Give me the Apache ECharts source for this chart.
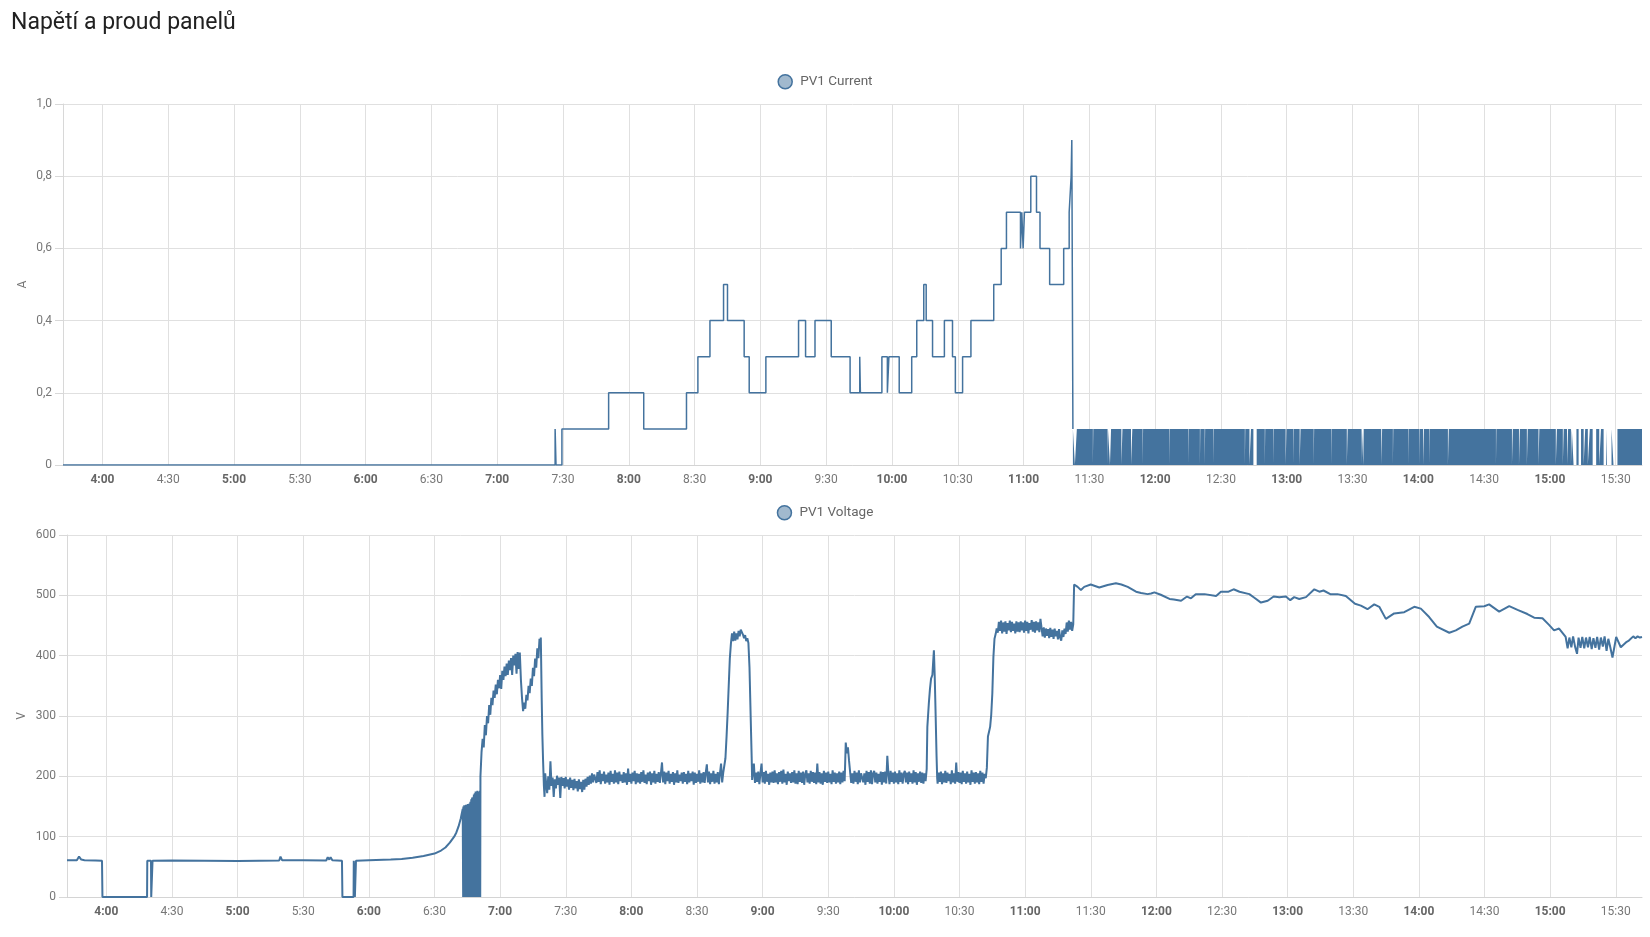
<!DOCTYPE html>
<html>
<head>
<meta charset="utf-8">
<script src="https://cdn.jsdelivr.net/npm/echarts@6/dist/echarts.min.js"></script>
<style>
html,body{margin:0;padding:0;background:#fff;}
#chart{width:1650px;height:937px;}
</style>
</head>
<body>
<div id="chart"></div>
<script>
// ---------- DATA ----------
const titleText = 'Napětí a proud panelů';
const xStart = '3:42';
const xEnd = '15:42';
const labelEveryMinutes = 30;

// PV1 Current: sample-and-hold readings [time, A]
const currentSteps = [
  ['3:42',0],['7:26.4',0.1],['7:26.8',0],['7:29.5',0.1],['7:50.8',0.2],['8:06.8',0.1],
  ['8:26.3',0.2],['8:31.5',0.3],['8:37.0',0.4],['8:43.2',0.5],['8:45.0',0.4],['8:52.6',0.3],
  ['8:54.9',0.2],['9:02.5',0.3],['9:17.4',0.4],['9:20.6',0.3],['9:24.9',0.4],['9:32.3',0.3],
  ['9:40.9',0.2],['9:45.3',0.3],['9:45.6',0.2],['9:55.4',0.3],['9:57.9',0.2],['9:58.6',0.3],
  ['10:03.3',0.2],['10:09.0',0.3],['10:11.3',0.4],['10:14.5',0.5],['10:15.6',0.4],['10:18.5',0.3],
  ['10:23.9',0.4],['10:27.6',0.3],['10:28.9',0.2],['10:32.2',0.3],['10:36.0',0.4],['10:46.4',0.5],
  ['10:49.8',0.6],['10:52.2',0.7],['10:58.6',0.6],['10:59.2',0.7],['10:59.8',0.6],['11:00.4',0.7],
  ['11:03.3',0.8],['11:05.9',0.7],['11:07.5',0.6],['11:11.9',0.5],['11:18.3',0.6],['11:20.8',0.7],
  ['11:21.7',0.8],['11:22.0',0.9],['11:22.5',0.1]
];
// After 11:22 the current flickers 0 <-> 0.1 continuously; drawn as a band with the quiet gaps
const currentBandStart = '11:22.5';
const currentBandEnd = '15:42';
const currentBandLevel = 0.1;
const currentBandGaps = [
  ['11:23.4','11:24.3'],['11:31.6','11:31.8'],['11:38.3','11:38.5'],['11:39.4','11:39.9'],
  ['11:44.6','11:45.1'],['11:49.0','11:49.6'],['11:54.3','11:54.5'],['12:06.5','12:06.7'],
  ['12:15.2','12:15.4'],['12:20.4','12:20.6'],['12:22.6','12:22.8'],['12:26.4','12:26.6'],
  ['12:40.9','12:41.1'],['12:43.0','12:43.7'],['12:44.8','12:46.3'],['12:50.0','12:50.2'],
  ['12:53.8','12:54.0'],['12:59.5','12:59.9'],['13:02.9','13:03.1'],['13:05.9','13:06.3'],
  ['13:12.3','13:12.5'],['13:20.4','13:20.6'],['13:27.4','13:27.8'],['13:34.1','13:34.3'],
  ['13:34.9','13:35.1'],['13:43.1','13:43.5'],['13:48.4','13:48.6'],['13:55.3','13:55.5'],
  ['14:00.5','14:00.7'],['14:02.2','14:02.6'],['14:04.9','14:05.1'],['14:13.5','14:13.9'],
  ['14:35.4','14:35.6'],['14:42.7','14:43.1'],['14:45.9','14:46.3'],['14:49.5','14:49.9'],
  ['14:54.8','14:55.2'],['15:02.7','15:03.2'],['15:05.9','15:06.3'],['15:07.8','15:08.3'],
  ['15:09.6','15:10.0'],['15:10.8','15:12.1'],['15:13.1','15:14.2'],['15:15.4','15:16.1'],
  ['15:17.3','15:18.2'],['15:19.5','15:21.1'],['15:22.5','15:23.3'],['15:24.5','15:25.6'],
  ['15:26.0','15:28.1'],['15:29.0','15:30.8']
];

// PV1 Voltage readings
const voltageEarly = [
  ['3:42',61],['3:46.5',61],['3:47.5',67],['3:48.5',62],['3:50',61],['3:55',60.5],['3:58',60],['3:58.2',0],
  ['4:18.6',0],['4:18.7',60],['4:20.4',60],['4:20.5',0],['4:21.0',0],['4:21.1',60],['4:30',60.5],['4:45',60],
  ['5:00',59.5],['5:10',60],['5:19',60.5],['5:19.6',67],['5:20.3',61],['5:30',61],['5:40.5',60.5],['5:41.2',66],
  ['5:41.9',62],['5:42.5',66],['5:43.3',61],['5:47.7',60],['5:47.9',0],['5:53.0',0],['5:53.1',60],['5:53.5',60],
  ['5:53.6',0],['5:54.0',0],['5:54.1',60],['6:00',61],['6:10',62],['6:15',63],['6:20',65],['6:25',68],
  ['6:30',72],['6:33',77],['6:35',82],['6:37',90],['6:39',100],['6:40',107],['6:41',117],['6:42',130],['6:42.9',146]
];
// 6:43 - 6:51 the voltage flickers between 0 and ~150-176 V (one reading every 0.1 min)
const voltageFlickerStart = '6:43.0';
const voltageFlickerStep = 0.1;
const voltageFlicker = [
  147,0,150,0,149,0,152,0,150,0,151,0,148,0,153,0,150,0,152,0,
  149,0,154,0,151,0,150,0,153,0,155,0,152,0,158,0,150,0,162,0,
  156,0,165,0,160,0,152,0,166,0,170,0,163,0,172,0,168,0,175,0,
  171,0,174,0,160,0,176,0,173,0,170,0,175,0,168,0,174,0,176,0
];
const voltageMorningRise = [
  ['6:51.0',200],['6:51.5',240],['6:52.0',262],['6:52.5',248],['6:53.0',285],['6:53.5',268],['6:54.0',300],
  ['6:54.5',288],['6:55.0',318],['6:55.5',302],['6:56.0',330],['6:56.5',318],['6:57.0',342],['6:57.5',330],
  ['6:58.0',352],['6:58.5',336],['6:59.0',360],['6:59.5',346],['7:00.0',368],['7:00.5',345],['7:01.0',375],
  ['7:01.5',360],['7:02.0',382],['7:02.5',366],['7:03.0',387],['7:03.5',368],['7:04.0',392],['7:04.5',376],
  ['7:05.0',396],['7:05.5',368],['7:06.0',400],['7:06.5',384],['7:07.0',403],['7:07.5',370],['7:08.0',406],
  ['7:08.5',378],['7:09.0',405],['7:09.5',360],['7:10.0',330],['7:10.5',308],['7:11.0',322],['7:11.5',312],
  ['7:12.0',335],['7:12.5',326],['7:13.0',350],['7:13.5',338],['7:14.0',362],['7:14.5',350],['7:15.0',380],
  ['7:15.5',366],['7:16.0',395],['7:16.5',380],['7:17.0',412],['7:17.5',396],['7:18.0',428],['7:18.3',418],
  ['7:18.6',430],['7:19.0',330],['7:19.3',270],['7:19.6',230],['7:20.0',185],['7:20.3',166],['7:20.6',205]
];
// noisy plateau 7:21 - 8:42 (one reading every 0.5 min)
const voltageNoiseAStart = '7:21.0';
const voltageNoiseA = [
  190,172,200,178,225,184,198,166,195,180,201,186,198,164,199,184,197,180,199,183,
  195,178,198,181,194,177,196,180,192,175,195,179,191,174,194,178,196,183,199,186,
  201,188,205,190,203,
  205,189,207,191,210,187,204,192,208,188,203,190,206,186,209,191,204,188,210,190,
  206,187,208,192,203,189,207,190,205,186,213,191,204,188,206,192,209,187,205,190,
  204,188,207,191,210,189,203,187,206,192,208,186,205,190,209,188,204,191,207,189,
  205,223,190,208,187,206,192,209,188,204,191,207,186,205,190,210,189,203,192,206,
  188,207,191,204,187,209,190,205,192,208,186,206,189,204,191,210,188,205,190,207,
  189,206,220,190,208,187,205,191,209,188,204,190,207,187,205,221,190,206
];
const voltagePeak1 = [
  ['8:42.5',205],['8:43.0',230],['8:43.5',265],['8:44.0',305],['8:44.5',350],['8:45.0',395],['8:45.5',420],
  ['8:46.0',437],['8:46.5',424],['8:47.0',440],['8:47.5',425],['8:48.0',437],['8:48.5',427],['8:49.0',441],
  ['8:49.5',432],['8:50.0',443],['8:50.4',446],['8:51.0',435],['8:51.5',429],['8:52.0',434],['8:52.5',424],
  ['8:53.0',429],['8:53.5',421],['8:54.0',380],['8:54.5',304],['8:55.0',230],['8:55.2',194]
];
const voltageNoiseBStart = '8:55.5';
const voltageNoiseB = [
  196,221,189,206,191,208,187,205,221,190,207,188,209,191,204,186,206,190,208,189,
  210,190,205,187,207,191,209,188,211,190,204,186,208,192,205,189,207,190,210,188,
  205,187,209,191,206,189,208,186,204,210,190,205,188,209,191,207,189,206,187,221,
  190,207,188,205,186,209,191,206,189,208,190,204,187,210,191,206,188,205,190,208,
  187,206,190,209,192,256,238,248,226,207,189,205,188,209,191,206,187,210,190,205,
  208,190,205,186,209,191,207,188,210,187,205,209,190,206,188,204,191,208,186,207,
  190,208,188,234,204,187,209,191,206,188,208,190,205,187,210,191,206,188,204,209,
  190,206,187,208,191,205,188,210,190,207,186,205,191,208,189,206,188,205,192
];
const voltagePeak2 = [
  ['10:15.0',212],['10:15.3',282],['10:16.0',322],['10:16.5',345],['10:17.0',362],['10:17.6',368],
  ['10:18.0',392],['10:18.3',409],['10:18.7',362],['10:19.1',300],['10:19.5',235],['10:19.8',197]
];
const voltageNoiseCStart = '10:20.0';
const voltageNoiseC = [
  188,206,191,208,187,205,190,209,189,206,192,204,187,210,190,205,188,223,191,207,
  189,206,187,209,191,205,188,208,190,204,186,210,191,206,188,207,190,205,187,209,
  191,206,188,204,197
];
const voltageRise3 = [
  ['10:42.5',214],['10:43.0',266],['10:43.5',274],['10:44.0',282],['10:44.5',302],
  ['10:45.0',337],['10:45.5',398],['10:46.0',428],['10:46.6',437],['10:47.0',445]
];
const voltageNoiseDStart = '10:47.5';
const voltageNoiseD = [
  438,456,441,458,437,455,440,457,436,454,442,458,439,456,441,453,437,457,440,455,
  439,457,442,455,438,458,441,456,437,454,443,459,440,456,438,457,442,455,439,461,
  446,432,447,430,445,433,444,429,446,431,443,428,445,432,441,427,444,430,425,442,
  431,445,436,455,440,458,443,456,441,452
];
const voltageAfternoon = [
  ['11:22.4',518],['11:24',514],['11:25.5',509],['11:27',514],['11:30',518],['11:33.9',513],['11:37.7',517],
  ['11:41.5',520],['11:44',518],['11:46.9',514],['11:50.7',506],['11:53',504],['11:56',502],['11:57.6',503],
  ['11:59.1',505],['12:02',501],['12:06',494],['12:08',493],['12:11.3',491],['12:14',498],['12:15.8',495],
  ['12:18',502],['12:22',502],['12:27.3',499],['12:29.5',506],['12:33',506],['12:35.3',510],['12:38',506],
  ['12:42.5',502],['12:44.8',496],['12:47.8',488],['12:50.9',491],['12:53.6',498],['12:56.2',497],['12:59.2',498],
  ['13:01.2',492],['13:03',497],['13:05.3',494],['13:08.4',497],['13:12.2',510],['13:14.5',506],['13:16.4',508],
  ['13:19.5',502],['13:22.8',502],['13:26.6',499],['13:28.9',492],['13:30.8',486],['13:33.5',483],['13:36.5',477],
  ['13:39.6',485],['13:41.9',481],['13:44.9',461],['13:48.7',470],['13:53.3',472],['13:57.9',481],['14:00.9',478],
  ['14:04.7',464],['14:08.2',448],['14:13.9',438],['14:16.9',442],['14:19.9',448],['14:23',453],['14:26',481],
  ['14:29.9',482],['14:32.1',485],['14:36.7',473],['14:41.3',482],['14:45.1',476],['14:49.6',469],['14:52.7',463],
  ['14:56.5',462],['14:59.5',451],['15:01.8',442],['15:04.1',445],['15:07.1',431],
  ['15:08.0',412],['15:08.8',430],['15:09.7',414],['15:10.5',432],['15:11.4',415],['15:12.3',403],['15:13.0',430],
  ['15:13.9',413],['15:14.7',431],['15:15.6',412],['15:16.4',430],['15:17.3',414],['15:18.1',431],['15:19.0',411],
  ['15:19.8',429],['15:20.7',413],['15:21.5',431],['15:22.4',410],['15:23.2',430],['15:24.1',415],['15:24.9',432],
  ['15:25.8',408],['15:26.6',428],['15:27.5',414],['15:28.5',397],['15:30.2',431],['15:32.3',414],['15:35',423],
  ['15:36',425],['15:38',432],['15:39',429],['15:40',432],['15:41',430],['15:42',431]
];

// ---------- BUILD ----------
const BASE = new Date(2024, 5, 1, 0, 0, 0).getTime();
function mins(s){ const p = s.split(':'); return Number(p[0]) * 60 + Number(p[1]); }
function T(s){ return BASE + mins(s) * 60000; }

const currentData = currentSteps.map(([t, v]) => [T(t), v]);
const bandData = [[T(currentBandStart), currentBandLevel]];
currentBandGaps.forEach(([a, b]) => { bandData.push([T(a), 0]); bandData.push([T(b), currentBandLevel]); });
bandData.push([T(currentBandEnd), currentBandLevel]);

const voltageData = [];
function addPairs(arr){ arr.forEach(([t, v]) => voltageData.push([T(t), v])); }
function addRun(start, stepMin, vals){ const s = T(start); vals.forEach((v, i) => voltageData.push([s + i * stepMin * 60000, v])); }
addPairs(voltageEarly);
addRun(voltageFlickerStart, voltageFlickerStep, voltageFlicker);
addPairs(voltageMorningRise);
addRun(voltageNoiseAStart, 0.5, voltageNoiseA);
addPairs(voltagePeak1);
addRun(voltageNoiseBStart, 0.5, voltageNoiseB);
addPairs(voltagePeak2);
addRun(voltageNoiseCStart, 0.5, voltageNoiseC);
addPairs(voltageRise3);
addRun(voltageNoiseDStart, 0.5, voltageNoiseD);
addPairs(voltageAfternoon);

// minute-by-minute tick categories spanning the time range (for the visible axis)
const startMin = mins(xStart), endMin = mins(xEnd);
const minuteLabels = [];
for (let m = startMin; m <= endMin; m++) minuteLabels.push(Math.floor(m / 60) + ':' + String(m % 60).padStart(2, '0'));
const isTick = (idx) => (startMin + idx) % labelEveryMinutes === 0;

// ---------- CHART ----------
const BLUE = '#44739e';
const GRID = '#e0e0e0';
const FONT = 'Roboto';

function timeAxisCfg(gi){
  return { type: 'time', gridIndex: gi, min: T(xStart), max: T(xEnd), show: false };
}
function tickAxisCfg(gi){
  return {
    type: 'category', gridIndex: gi, position: 'bottom', data: minuteLabels, boundaryGap: false,
    axisLine: { show: true, lineStyle: { color: '#d4d4d4' } },
    axisTick: { show: false },
    splitLine: { show: true, interval: (i) => isTick(i), lineStyle: { color: GRID } },
    axisLabel: {
      interval: (i) => isTick(i), margin: 9, fontSize: 12, color: '#777', fontFamily: FONT,
      formatter: (v) => v.endsWith(':00') ? '{b|' + v + '}' : v,
      rich: { b: { fontWeight: 'bold', color: '#666', fontSize: 12, fontFamily: FONT } }
    }
  };
}
function yAxisCfg(gi, max, interval, name, gap, fmt){
  return {
    type: 'value', gridIndex: gi, min: 0, max: max, interval: interval,
    name: name, nameLocation: 'middle', nameGap: gap, nameRotate: 90, nameMoveOverlap: false,
    nameTextStyle: { color: '#777', fontSize: 12, fontFamily: FONT },
    axisLine: { show: true, lineStyle: { color: '#d8d8d8' } },
    axisTick: { show: true, length: 8, lineStyle: { color: '#d8d8d8' } },
    splitLine: { show: true, lineStyle: { color: GRID } },
    axisLabel: { color: '#777', fontSize: 12, fontFamily: FONT, margin: 11, formatter: fmt }
  };
}
function legendCfg(name, top){
  return {
    data: [name], top: top, left: 'center', icon: 'circle', itemWidth: 14, itemHeight: 14,
    itemStyle: { color: 'rgba(68,115,158,0.5)', borderColor: BLUE, borderWidth: 1.5 },
    textStyle: { color: '#666', fontSize: 13.5, fontFamily: FONT, padding: [0, 0, 0, 3] }
  };
}

const chart = echarts.init(document.getElementById('chart'));
chart.setOption({
  animation: false,
  backgroundColor: '#fff',
  title: { text: titleText, left: 6, top: 7, textStyle: { fontSize: 23, fontWeight: 'normal', color: '#212121', fontFamily: FONT } },
  legend: [legendCfg('PV1 Current', 69), legendCfg('PV1 Voltage', 500)],
  grid: [
    { left: 63, right: 8, top: 104, height: 361 },
    { left: 67, right: 8, top: 535, height: 362 }
  ],
  xAxis: [timeAxisCfg(0), timeAxisCfg(1), tickAxisCfg(0), tickAxisCfg(1)],
  yAxis: [
    yAxisCfg(0, 1, 0.2, 'A', 34, v => v === 0 ? '0' : v.toFixed(1).replace('.', ',')),
    yAxisCfg(1, 600, 100, 'V', 39, v => String(v))
  ],
  series: [
    { name: 'PV1 Current', type: 'line', step: 'end', xAxisIndex: 0, yAxisIndex: 0, data: currentData,
      symbol: 'none', color: BLUE, lineStyle: { width: 1.5, color: BLUE } },
    { name: 'PV1 Current', type: 'line', step: 'end', xAxisIndex: 0, yAxisIndex: 0, data: bandData,
      symbol: 'none', color: BLUE, lineStyle: { width: 1, color: BLUE, opacity: 0 },
      areaStyle: { color: BLUE, opacity: 1 } },
    { name: 'PV1 Voltage', type: 'line', xAxisIndex: 1, yAxisIndex: 1, data: voltageData,
      symbol: 'none', color: BLUE, lineStyle: { width: 2, color: BLUE } }
  ]
});
</script>
</body>
</html>
